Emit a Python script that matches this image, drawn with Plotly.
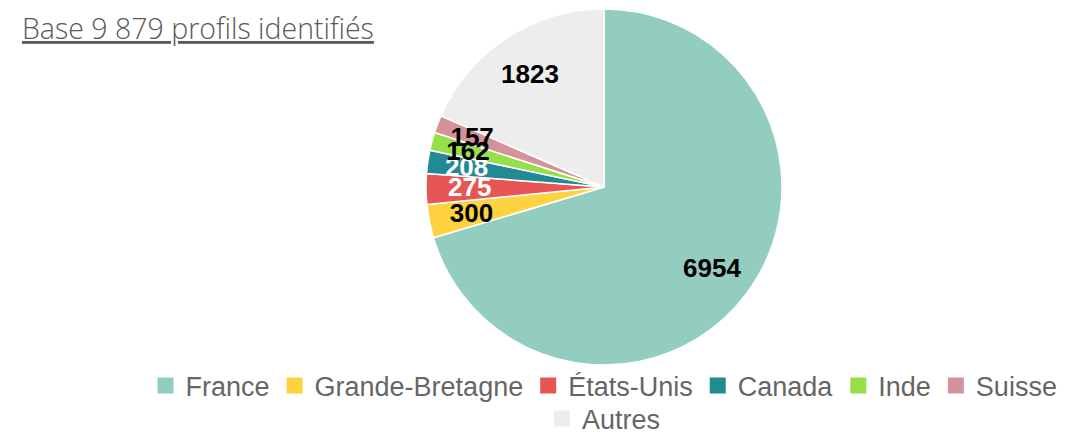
import plotly.graph_objects as go

labels = ["France", "Grande-Bretagne", "États-Unis", "Canada", "Inde", "Suisse", "Autres"]
values = [6954, 300, 275, 208, 162, 157, 1823]
colors = ["#93CDBF", "#FFD23F", "#E85555", "#218A94", "#95E04A", "#D4939A", "#EDEDED"]
text_colors = ["#000000", "#000000", "#FFFFFF", "#FFFFFF", "#000000", "#000000", "#000000"]
big_labels = ["France", "Autres"]
second_row = ["Autres"]
title_text = "Base 9 879 profils identifiés"

W, H = 1086, 432
ML, MR, MT, MB = 0, 0, 9, 67
GW, GH = W - ML - MR, H - MT - MB
CX = 604
R_OUT = GH / 2
R_SMALL = 148

def dom(r):
    return dict(x=[(CX - r) / GW, (CX + r) / GW], y=[0.5 - r / GH, 0.5 + r / GH])

transparent = ["rgba(0,0,0,0)"] * len(values)
label_font = dict(family="Arial, Liberation Sans, sans-serif", size=26, color=text_colors, weight="bold")
common = dict(labels=labels, values=values, sort=False, direction="clockwise", rotation=0)

fig = go.Figure()
# visible pie
fig.add_trace(go.Pie(
    **common,
    marker=dict(colors=colors, line=dict(color="#FFFFFF", width=1.5)),
    textinfo="none",
    domain=dom(R_OUT),
    showlegend=False,
    hoverinfo="label+value+percent",
))
# labels of the large slices
fig.add_trace(go.Pie(
    **common,
    hole=0.517,
    marker=dict(colors=transparent, line=dict(width=0)),
    text=[str(v) if l in big_labels else "" for l, v in zip(labels, values)],
    textinfo="text",
    textposition="inside",
    insidetextorientation="horizontal",
    textfont=label_font,
    domain=dom(R_OUT),
    showlegend=False,
    hoverinfo="skip",
))
# labels of the small slices
fig.add_trace(go.Pie(
    **common,
    marker=dict(colors=transparent, line=dict(width=0)),
    text=[str(v) if l not in big_labels else "" for l, v in zip(labels, values)],
    textinfo="text",
    textposition="inside",
    insidetextorientation="horizontal",
    textfont=label_font,
    domain=dom(R_SMALL),
    showlegend=False,
    hoverinfo="skip",
))
# legend entries
for lab, col in zip(labels, colors):
    fig.add_trace(go.Scatter(
        x=[None], y=[None], mode="markers", name=lab,
        marker=dict(symbol="square", size=26, color=col),
        legend="legend2" if lab in second_row else "legend",
        hoverinfo="skip",
    ))

legend_common = dict(
    orientation="h",
    x=CX / W,
    xanchor="center",
    yanchor="top",
    font=dict(family="Arial, Liberation Sans, sans-serif", size=27, color="#666666"),
    itemwidth=30,
    traceorder="normal",
    itemclick=False,
    itemdoubleclick=False,
    bgcolor="rgba(0,0,0,0)",
)

fig.update_layout(
    width=W,
    height=H,
    margin=dict(l=ML, r=MR, t=MT, b=MB, autoexpand=False),
    paper_bgcolor="#FFFFFF",
    plot_bgcolor="#FFFFFF",
    xaxis=dict(visible=False),
    yaxis=dict(visible=False),
    uniformtext=dict(minsize=26, mode="show"),
    showlegend=True,
    legend=dict(**legend_common, y=3.5 / GH),
    legend2=dict(**legend_common, y=-29.5 / GH),
    title=dict(
        text="<u>" + title_text + "</u>",
        xref="container", yref="container",
        x=22 / W, xanchor="left",
        y=1 - 29 / H, yanchor="middle",
        font=dict(family="Open Sans, Lato, sans-serif", size=28.5, color="#595959", weight=300),
    ),
)

fig.write_html(
    "out.html",
    config={"displayModeBar": False},
    post_script="document.body.style.margin='0';",
)
